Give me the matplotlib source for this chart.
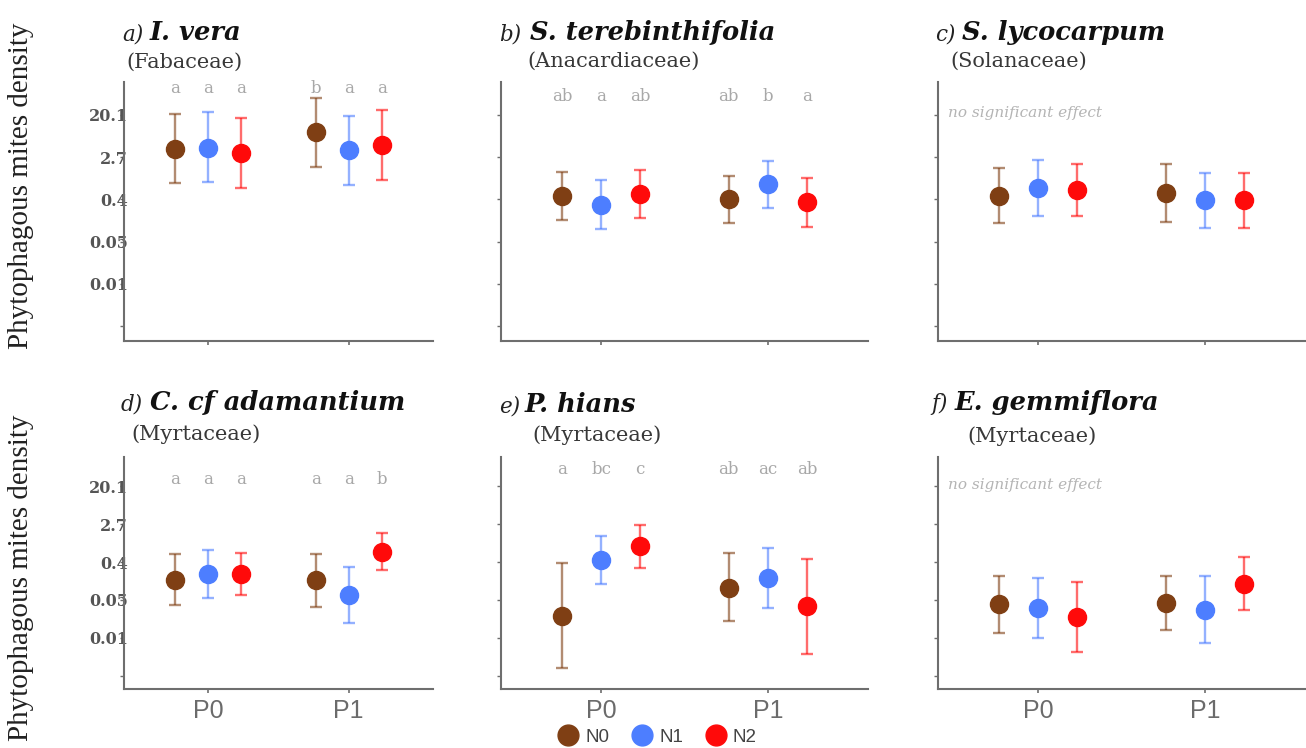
import numpy as np
import matplotlib
matplotlib.use("Agg")
import matplotlib.pyplot as plt
from matplotlib.lines import Line2D

# ---------------- data (ln of phytophagous mite density) ----------------
groups = ["P0", "P1"]
nitrogen = ["N0", "N1", "N2"]
colors = ["#7f3f14", "#4d7eff", "#ff0a0a"]

panel_tags = ["a)", "b)", "c)", "d)", "e)", "f)"]
species = ["I. vera", "S. terebinthifolia", "S. lycocarpum",
           "C. cf adamantium", "P. hians", "E. gemmiflora"]
families = ["(Fabaceae)", "(Anacardiaceae)", "(Solanaceae)",
            "(Myrtaceae)", "(Myrtaceae)", "(Myrtaceae)"]

# rows: P0, P1 ; columns: N0, N1, N2
mean_a = [[1.40, 1.45, 1.21], [2.19, 1.32, 1.56]]
upper_a = [[3.03, 3.11, 2.87], [3.79, 2.95, 3.23]]
lower_a = [[-0.24, -0.18, -0.45], [0.55, -0.34, -0.09]]

mean_b = [[-0.84, -1.27, -0.73], [-1.00, -0.29, -1.13]]
upper_b = [[0.27, -0.09, 0.39], [0.10, 0.79, 0.00]]
lower_b = [[-1.98, -2.39, -1.89], [-2.14, -1.43, -2.31]]

mean_c = [[-0.84, -0.48, -0.56], [-0.68, -1.03, -1.05]]
upper_c = [[0.50, 0.86, 0.69], [0.66, 0.26, 0.26]]
lower_c = [[-2.14, -1.79, -1.79], [-2.06, -2.34, -2.37]]

mean_d = [[-1.95, -1.65, -1.65], [-1.96, -2.74, -0.46]]
upper_d = [[-0.56, -0.38, -0.51], [-0.59, -1.25, 0.54]]
lower_d = [[-3.28, -2.91, -2.75], [-3.35, -4.23, -1.44]]

mean_e = [[-3.84, -0.91, -0.16], [-2.35, -1.83, -3.32]]
upper_e = [[-1.04, 0.37, 0.98], [-0.54, -0.25, -0.81]]
lower_e = [[-6.59, -2.17, -1.30], [-4.11, -3.44, -5.83]]

mean_f = [[-3.23, -3.44, -3.88], [-3.14, -3.53, -2.17]]
upper_f = [[-1.74, -1.86, -2.04], [-1.74, -1.74, -0.74]]
lower_f = [[-4.72, -5.02, -5.72], [-4.59, -5.25, -3.54]]

letters_a = [["a", "a", "a"], ["b", "a", "a"]]
letters_b = [["ab", "a", "ab"], ["ab", "b", "a"]]
letters_c = None
letters_d = [["a", "a", "a"], ["a", "a", "b"]]
letters_e = [["a", "bc", "c"], ["ab", "ac", "ab"]]
letters_f = None

y_ticks = [3, 1, -1, -3, -5, -7]
y_ticklabels = ["20.1", "2.7", "0.4", "0.05", "0.01", ""]

means = [mean_a, mean_b, mean_c, mean_d, mean_e, mean_f]
uppers = [upper_a, upper_b, upper_c, upper_d, upper_e, upper_f]
lowers = [lower_a, lower_b, lower_c, lower_d, lower_e, lower_f]
letters = [letters_a, letters_b, letters_c, letters_d, letters_e, letters_f]
letter_y = [4.25, 3.85, None, 3.35, 3.88, None]

# ---------------- layout ----------------
FW, FH = 1306, 748
fig = plt.figure(figsize=(FW / 100, FH / 100), dpi=100)


def rect(x0, x1, y0, y1):
    return [x0 / FW, 1 - y1 / FH, (x1 - x0) / FW, (y1 - y0) / FH]


rects = [rect(124, 433, 82, 341), rect(501, 868, 82, 341), rect(938, 1305, 82, 341),
         rect(124, 433, 457, 689), rect(501, 868, 457, 689), rect(938, 1305, 457, 689)]

# title positions in pixels: (tag_x, species_x, baseline_y, family_x, family_y)
title_pos = [(122, 150, 40, 126, 62), (499, 530, 40, 527, 61), (935, 962, 40, 950, 61),
             (121, 150, 410, 131, 434), (499, 525, 412, 532, 435), (931, 955, 410, 967, 436)]

spine_col = "#6e6e6e"
dodge = 0.235

for i in range(6):
    ax = fig.add_axes(rects[i])
    ax.set_xlim(0.4, 2.6)
    ax.set_ylim(-7.7, 4.55)
    for s in ["top", "right"]:
        ax.spines[s].set_visible(False)
    for s in ["left", "bottom"]:
        ax.spines[s].set_color(spine_col)
        ax.spines[s].set_linewidth(1.5)

    for gi in range(len(groups)):
        for ni in range(len(nitrogen)):
            x = gi + 1 + (ni - 1) * dodge
            m = means[i][gi][ni]
            lo = lowers[i][gi][ni]
            up = uppers[i][gi][ni]
            ax.errorbar([x], [m], yerr=[[m - lo], [up - m]], fmt="none",
                        ecolor=colors[ni], alpha=0.6, elinewidth=1.7,
                        capsize=4.5, capthick=1.7, zorder=2)
            ax.plot([x], [m], "o", color=colors[ni], ms=13, zorder=3)
            if letters[i] is not None:
                ax.text(x, letter_y[i], letters[i][gi][ni], ha="center", va="center",
                        fontsize=12, color="#a8a8a8", family="DejaVu Serif")

    if letters[i] is None:
        ax.text(0.46, 3.1 if i == 2 else 3.05, "no significant effect", ha="left",
                va="center", fontsize=11, style="italic", color="#b4b4b4",
                family="DejaVu Serif")

    ax.set_xticks([1, 2])
    if i >= 3:
        ax.set_xticklabels(groups, fontsize=18, color="#6b6b6b", family="Liberation Sans")
    else:
        ax.set_xticklabels([])
    ax.tick_params(axis="x", length=3, color=spine_col, width=1.2, pad=4)

    ax.set_yticks(y_ticks)
    if i in (0, 3):
        ax.set_yticklabels(y_ticklabels, fontsize=11.5, color="#555555",
                           family="DejaVu Serif", fontweight="bold")
    else:
        ax.set_yticklabels([])
    ax.tick_params(axis="y", length=3, color=spine_col, width=1.0, pad=-6)

    tx, sx, by, fx, fy = title_pos[i]
    fig.text(tx / FW, 1 - by / FH, panel_tags[i], ha="left", va="baseline",
             fontsize=15.5, style="italic", color="#222222", family="DejaVu Serif")
    fig.text(sx / FW, 1 - by / FH, species[i], ha="left", va="baseline",
             fontsize=18.5, style="italic", fontweight="bold", color="#111111",
             family="DejaVu Serif")
    fig.text(fx / FW, 1 - fy / FH, families[i], ha="left", va="center",
             fontsize=15, color="#383838", family="DejaVu Serif")

# y labels
for yc in (186, 578):
    fig.text(21 / FW, 1 - yc / FH, "Phytophagous mites density", rotation=90,
             ha="center", va="center", fontsize=21, color="#222222",
             family="Liberation Serif")

handles = [Line2D([], [], marker="o", ls="none", color=c, ms=15) for c in colors]
fig.legend(handles, nitrogen, loc="center", bbox_to_anchor=(0.503, 0.0147), ncol=3,
           frameon=False, prop={"family": "Liberation Sans", "size": 13.5},
           handletextpad=0.3, columnspacing=1.15, handlelength=1.2, labelcolor="#444444")

fig.savefig("out.png", dpi=100)
